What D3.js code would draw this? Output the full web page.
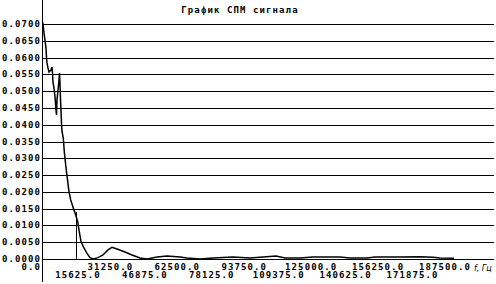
<!DOCTYPE html>
<html><head><meta charset="utf-8">
<script src="https://cdn.jsdelivr.net/npm/d3@7"></script>
<style>
html,body{margin:0;padding:0;background:#fff;}
svg{display:block;}
.lab{font-family:"DejaVu Sans Mono",monospace;font-weight:bold;font-size:9px;letter-spacing:1.1px;fill:#000;}
</style></head><body>
<script>
const title = "График СПМ сигнала";
const xUnit = "f, Гц";
const yTicks = [0,0.005,0.010,0.015,0.020,0.025,0.030,0.035,0.040,0.045,0.050,0.055,0.060,0.065,0.070];
const xTicksTop = [0,31250,62500,93750,125000,156250,187500];
const xTicksBottom = [15625,46875,78125,109375,140625,171875];
const markerFreq = 15625;
const freq = [0,230,700,1170,1630,1870,2100,2570,3040,3500,3970,4440,4670,4900,5370,5840,6300,6540,6770,7240,7710,7940,8170,8410,8640,8870,
  9110,9710,10180,10830,11580,12380,13170,14380,15500,16440,17190,17980,19050,20640,22180,23720,25920,
  28250,30590,32460,34790,38530,41800,45540,48810,53480,58150,64220,67480,73560,79630,88970,96900,
  101570,109040,113250,120250,126320,138930,143600,151540,155280,166950,176290,182360,185630,192170];
const psd = [0.0705,0.0700,0.0673,0.0652,0.0628,0.0599,0.0584,0.0569,0.0557,0.0560,0.0563,0.0572,0.0554,0.0527,0.0509,0.0483,0.0444,0.0429,0.0474,0.0503,0.0533,0.0554,0.0524,0.0474,0.0444,0.0405,
  0.0380,0.0360,0.0320,0.0280,0.0241,0.0200,0.0176,0.0152,0.0131,0.0111,0.0081,0.0052,0.0037,0.0018,0.0004,0.0000,0.0004,
  0.0012,0.0027,0.0035,0.0030,0.0021,0.0012,0.0003,0.0000,0.0006,0.0009,0.0006,0.0003,0.0000,0.0003,0.0006,0.0003,
  0.0005,0.0009,0.0003,0.0003,0.0006,0.0006,0.0003,0.0003,0.0006,0.0006,0.0007,0.0005,0.0003,0.0002];

const W=496,H=284;
const svg=d3.select("body").append("svg").attr("width",W).attr("height",H);
const x=d3.scaleLinear().domain([0,187500]).range([42.5,444]);
const y=d3.scaleLinear().domain([0,0.07]).range([259,24]);
const gridRight=494;

// gridlines
svg.append("g").selectAll("line").data(yTicks).join("line")
  .attr("x1",42).attr("x2",gridRight)
  .attr("y1",d=>Math.round(y(d))+0.5).attr("y2",d=>Math.round(y(d))+0.5)
  .attr("stroke","#000").attr("stroke-width",1).attr("shape-rendering","crispEdges");

// y axis line
svg.append("line").attr("x1",42.5).attr("x2",42.5).attr("y1",0).attr("y2",282)
  .attr("stroke","#000").attr("stroke-width",1).attr("shape-rendering","crispEdges");

// y labels
svg.append("g").selectAll("text").data(yTicks).join("text").attr("class","lab")
  .attr("x",41).attr("y",d=>Math.round(y(d))+3).attr("text-anchor","end")
  .text(d=>d.toFixed(4));

// x labels
svg.append("g").selectAll("text").data(xTicksTop).join("text").attr("class","lab")
  .attr("x",d=>d===0?41:x(d)+1).attr("y",269.5).attr("text-anchor",d=>d===0?"end":"middle")
  .text(d=>d.toFixed(1));
svg.append("g").selectAll("text").data(xTicksBottom).join("text").attr("class","lab")
  .attr("x",d=>x(d)+2).attr("y",277.5).attr("text-anchor","middle")
  .text(d=>d.toFixed(1));

// title
svg.append("text").attr("class","lab").attr("x",240).attr("y",13).attr("text-anchor","middle")
  .text(title);

// unit
svg.append("text").attr("x",474).attr("y",271)
  .style("font-family","'DejaVu Sans',sans-serif").style("font-style","italic").style("font-size","8px")
  .text(xUnit);

// marker line at 15625
const mv = d3.scaleLinear().domain(freq).range(psd)(markerFreq);
svg.append("line").attr("x1",Math.round(x(markerFreq))+0.5).attr("x2",Math.round(x(markerFreq))+0.5)
  .attr("y1",y(mv)-4).attr("y2",y(0)+1).attr("stroke","#000").attr("stroke-width",1).attr("shape-rendering","crispEdges");

// curve
const pts=freq.map((f,i)=>[f,psd[i]]);
svg.append("path").datum(pts)
  .attr("d",d3.line().x(d=>x(d[0])).y(d=>y(d[1])))
  .attr("fill","none").attr("stroke","#000").attr("stroke-width",1.5);
</script>
</body></html>
